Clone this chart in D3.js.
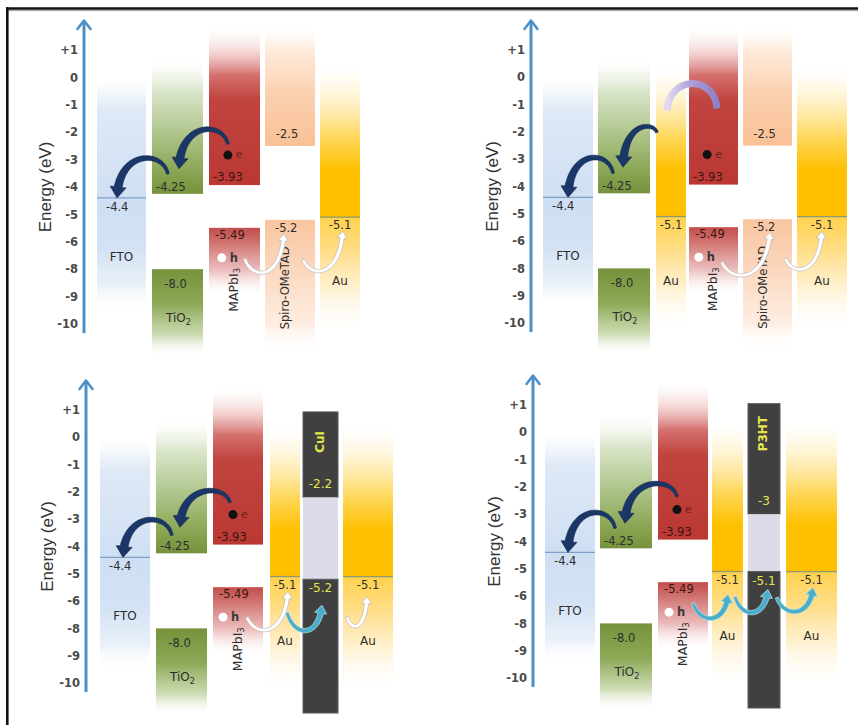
<!DOCTYPE html>
<html>
<head>
<meta charset="utf-8">
<script src="https://cdn.jsdelivr.net/npm/d3@7"></script>
<style>
  html, body { margin: 0; padding: 0; background: #fff; }
  svg { display: block; }
</style>
</head>
<body>
<svg id="chart" width="858" height="725"></svg>
<script>
// Energy axis ticks (the printed scale jumps from -6 to -8)
const tickValues = [1, 0, -1, -2, -3, -4, -5, -6, -8, -9, -10];
const tickLabels = ["+1", "0", "-1", "-2", "-3", "-4", "-5", "-6", "-8", "-9", "-10"];

// Semiconductors: conduction band / LUMO and valence band / HOMO (eV)
const semiconductors = ["TiO2", "MAPbI3", "Spiro-OMeTAD", "CuI", "P3HT"];
const conductionBand = [-4.25, -3.93, -2.5, -2.2, -3];
const conductionLabels = ["-4.25", "-3.93", "-2.5", "-2.2", "-3"];
const valenceBand = [-8.0, -5.49, -5.2, -5.2, -5.1];
const valenceLabels = ["-8.0", "-5.49", "-5.2", "-5.2", "-5.1"];

// Electrodes: work function (eV)
const electrodes = ["FTO", "Au"];
const workFunction = [-4.4, -5.1];
const workFunctionLabels = ["-4.4", "-5.1"];

// Layer stacks of the four device structures
const stacks = [
  ["FTO", "TiO2", "MAPbI3", "Spiro-OMeTAD", "Au"],
  ["FTO", "TiO2", "Au", "MAPbI3", "Spiro-OMeTAD", "Au"],
  ["FTO", "TiO2", "MAPbI3", "Au", "CuI", "Au"],
  ["FTO", "TiO2", "MAPbI3", "Au", "P3HT", "Au"]
];

// Panel geometry: axis position, pixel row of the first tick, tick spacing,
// horizontal extent of each layer column, and charge-transfer arrows
// (arrow ends are given as column index, fraction across the column,
// which energy level of that layer, and a pixel offset from it).
const layout = [
  { axisX: 84, top: 50, step: 27.4,
    cols: [[97, 146], [152, 203], [209, 260], [265, 315], [320, 360]],
    eDot: 0.37, hDot: 0.25,
    arrows: [
      { type: "navy", from: { c: 2, fx: 0.37, b: "cb", dy: -41 }, to: { c: 1, fx: 0.53, b: "cb", dy: -25 }, k: 14 },
      { type: "navy", from: { c: 1, fx: 0.31, b: "cb", dy: -20 }, to: { c: 0, fx: 0.41, b: "wf", dy: 0 }, k: 15 },
      { type: "white", from: { c: 2, fx: 0.70, b: "vb", dy: 31 }, to: { c: 3, fx: 0.38, b: "vb", dy: 14 }, k: 13 },
      { type: "white", from: { c: 3, fx: 0.76, b: "vb", dy: 40 }, to: { c: 4, fx: 0.57, b: "wf", dy: 14 }, k: 10 }
    ] },
  { axisX: 531, top: 50, step: 27.3,
    cols: [[543, 593], [598, 650], [656, 686], [689, 738], [743, 792], [797, 847]],
    eDot: 0.37, hDot: 0.2,
    arrows: [
      { type: "navy", from: { c: 2, fx: 0.03, b: "wf", dy: -84 }, to: { c: 1, fx: 0.48, b: "cb", dy: -26 }, k: 4 },
      { type: "navy", from: { c: 1, fx: 0.29, b: "cb", dy: -20 }, to: { c: 0, fx: 0.5, b: "wf", dy: 0 }, k: 15 },
      { type: "purple", from: { c: 2, fx: 0.37, b: "wf", dy: -106 }, to: { c: 3, fx: 0.57, b: "cb", dy: -76 }, k: 25 },
      { type: "white", from: { c: 3, fx: 0.67, b: "vb", dy: 35 }, to: { c: 4, fx: 0.55, b: "vb", dy: 13 }, k: 12 },
      { type: "white", from: { c: 4, fx: 0.86, b: "vb", dy: 39 }, to: { c: 5, fx: 0.5, b: "wf", dy: 15 }, k: 10 }
    ] },
  { axisX: 86, top: 410, step: 27.3,
    cols: [[100, 150], [156, 207], [213, 263], [270, 300], [303, 338], [343, 393]],
    eDot: 0.4, hDot: 0.2,
    arrows: [
      { type: "navy", from: { c: 2, fx: 0.34, b: "cb", dy: -42 }, to: { c: 1, fx: 0.47, b: "cb", dy: -26 }, k: 11 },
      { type: "navy", from: { c: 1, fx: 0.31, b: "cb", dy: -18 }, to: { c: 0, fx: 0.46, b: "wf", dy: 0 }, k: 15 },
      { type: "white", from: { c: 2, fx: 0.68, b: "vb", dy: 30 }, to: { c: 3, fx: 0.6, b: "wf", dy: 15 }, k: 12 },
      { type: "white", from: { c: 5, fx: 0.08, b: "wf", dy: 40 }, to: { c: 5, fx: 0.48, b: "wf", dy: 20 }, k: 9 },
      { type: "cyan", from: { c: 3, fx: 0.57, b: "wf", dy: 36 }, to: { c: 4, fx: 0.54, b: "vb", dy: 26 }, k: 18 }
    ] },
  { axisX: 533, top: 405, step: 27.3,
    cols: [[545, 595], [600, 652], [658, 708], [712, 743], [748, 780], [786, 837]],
    eDot: 0.38, hDot: 0.22,
    arrows: [
      { type: "navy", from: { c: 2, fx: 0.38, b: "cb", dy: -43 }, to: { c: 1, fx: 0.48, b: "cb", dy: -25 }, k: 12 },
      { type: "navy", from: { c: 1, fx: 0.29, b: "cb", dy: -20 }, to: { c: 0, fx: 0.46, b: "wf", dy: 0 }, k: 15 },
      { type: "cyan", from: { c: 2, fx: 0.70, b: "vb", dy: 21 }, to: { c: 3, fx: 0.52, b: "wf", dy: 23 }, k: 15 },
      { type: "cyan", from: { c: 3, fx: 0.74, b: "wf", dy: 25 }, to: { c: 4, fx: 0.62, b: "vb", dy: 18 }, k: 16 },
      { type: "cyan", from: { c: 4, fx: 0.90, b: "vb", dy: 26 }, to: { c: 5, fx: 0.53, b: "wf", dy: 16 }, k: 14 }
    ] }
];

const svg = d3.select("#chart");
const defs = svg.append("defs");
let gradId = 0;

function lookup(name) {
  let i = semiconductors.indexOf(name);
  if (i >= 0) {
    return { cb: conductionBand[i], vb: valenceBand[i], cbLabel: conductionLabels[i], vbLabel: valenceLabels[i] };
  }
  i = electrodes.indexOf(name);
  return { wf: workFunction[i], wfLabel: workFunctionLabels[i] };
}

// Vertical gradient whose stops are placed at energies on the panel's scale
function energyGradient(y, eTop, eBot, stops) {
  const id = "grad" + (gradId++);
  const y0 = y(eTop), y1 = y(eBot);
  const lg = defs.append("linearGradient")
    .attr("id", id).attr("gradientUnits", "userSpaceOnUse")
    .attr("x1", 0).attr("x2", 0).attr("y1", y0).attr("y2", y1);
  stops.forEach(([e, c, o]) => {
    lg.append("stop")
      .attr("offset", Math.max(0, Math.min(1, (y(e) - y0) / (y1 - y0))))
      .attr("stop-color", c).attr("stop-opacity", o);
  });
  return `url(#${id})`;
}

function band(g, y, x0, x1, eTop, eBot, stops) {
  g.append("rect")
    .attr("x", x0).attr("width", x1 - x0)
    .attr("y", y(eTop)).attr("height", y(eBot) - y(eTop))
    .attr("fill", energyGradient(y, eTop, eBot, stops));
}

function label(g, x, yy, str, opts = {}) {
  const t = g.append("text")
    .attr("x", x).attr("y", yy)
    .attr("font-family", opts.family || "DejaVu Sans")
    .attr("font-size", opts.size || 11.5)
    .attr("font-weight", opts.weight || "normal")
    .attr("fill", opts.fill || "#2e2e2e")
    .attr("text-anchor", opts.anchor || "start");
  if (opts.rotate) t.attr("transform", `rotate(-90,${x},${yy})`).attr("dominant-baseline", "middle");
  const m = /^(TiO|MAPbI)(\d)$/.exec(str);
  if (m) {
    t.append("tspan").text(m[1]);
    t.append("tspan").attr("font-size", (opts.size || 11.5) * 0.68).attr("dy", "0.3em").text(m[2]);
  } else {
    t.text(str);
  }
  return t;
}

// ---- arrow geometry ----
function bezierPoints(p0, p1, p2, p3, n = 90) {
  const pts = [];
  for (let i = 0; i <= n; i++) {
    const t = i / n, u = 1 - t;
    pts.push([
      u * u * u * p0[0] + 3 * u * u * t * p1[0] + 3 * u * t * t * p2[0] + t * t * t * p3[0],
      u * u * u * p0[1] + 3 * u * u * t * p1[1] + 3 * u * t * t * p2[1] + t * t * t * p3[1]
    ]);
  }
  return pts;
}

function overArc(T, H, lift) {
  const peak = Math.min(T[1], H[1]) - lift;
  const yc = (peak - (T[1] + H[1]) / 8) / 0.75;
  const dx = H[0] - T[0];
  return bezierPoints(T, [T[0] + dx * 0.1, yc], [H[0] - dx * 0.02, yc], H);
}

function underArc(T, H, dip) {
  const bottom = Math.max(T[1], H[1]) + dip;
  const yc = (bottom - (T[1] + H[1]) / 8) / 0.75;
  const dx = H[0] - T[0];
  return bezierPoints(T, [T[0] + dx * 0.2, yc], [H[0] - dx * 0.08, yc], H);
}

function taperedArrow(pts, w0, w1, headW, headL) {
  const cum = [0];
  for (let i = 1; i < pts.length; i++) {
    cum.push(cum[i - 1] + Math.hypot(pts[i][0] - pts[i - 1][0], pts[i][1] - pts[i - 1][1]));
  }
  const L = cum[cum.length - 1];
  const Lb = Math.max(L - headL, L * 0.3);
  const body = [];
  for (let i = 0; i < pts.length; i++) {
    if (cum[i] < Lb) {
      body.push({ p: pts[i], s: cum[i] });
    } else {
      const a = (Lb - cum[i - 1]) / (cum[i] - cum[i - 1]);
      body.push({ p: [pts[i - 1][0] + a * (pts[i][0] - pts[i - 1][0]), pts[i - 1][1] + a * (pts[i][1] - pts[i - 1][1])], s: Lb });
      break;
    }
  }
  const left = [], right = [];
  body.forEach((b, i) => {
    const a = body[Math.max(0, i - 1)].p, c = body[Math.min(body.length - 1, i + 1)].p;
    let tx = c[0] - a[0], ty = c[1] - a[1];
    const m = Math.hypot(tx, ty) || 1; tx /= m; ty /= m;
    const w = (w0 + (w1 - w0) * b.s / Lb) / 2;
    left.push([b.p[0] - ty * w, b.p[1] + tx * w]);
    right.push([b.p[0] + ty * w, b.p[1] - tx * w]);
  });
  const B = body[body.length - 1].p, E = pts[pts.length - 1];
  let dx = E[0] - B[0], dy = E[1] - B[1];
  const m = Math.hypot(dx, dy) || 1; dx /= m; dy /= m;
  const hw = headW / 2;
  const all = [...left, [B[0] - dy * hw, B[1] + dx * hw], E, [B[0] + dy * hw, B[1] - dx * hw], ...right.reverse()];
  return "M" + all.map(q => q[0].toFixed(2) + "," + q[1].toFixed(2)).join("L") + "Z";
}

// ---- frame ----
svg.append("line").attr("x1", 6).attr("x2", 858).attr("y1", 8.5).attr("y2", 8.5)
  .attr("stroke", "#111").attr("stroke-width", 2.6);
svg.append("line").attr("x1", 6).attr("x2", 858).attr("y1", 10.6).attr("y2", 10.6)
  .attr("stroke", "#9a9a9a").attr("stroke-width", 1);
svg.append("line").attr("x1", 7.3).attr("x2", 7.3).attr("y1", 7.2).attr("y2", 725)
  .attr("stroke", "#111").attr("stroke-width", 2.6);

// ---- panels ----
layout.forEach((p, pi) => {
  const g = svg.append("g");
  const y = d3.scaleLinear()
    .domain(tickValues)
    .range(tickValues.map((_, i) => p.top + i * p.step));
  const stack = stacks[pi];
  const infos = stack.map(lookup);

  // layer columns
  stack.forEach((name, ci) => {
    const [x0, x1] = p.cols[ci];
    const w = x1 - x0, xc = (x0 + x1) / 2;
    const L = infos[ci];

    if (name === "FTO") {
      band(g, y, x0, x1, -0.1, -9.5, [
        [-0.1, "#dfe8f5", 0], [-1.2, "#d9e5f5", 0.85], [-4.4, "#cfdff3", 1],
        [-6.5, "#d3e2f4", 1], [-8.6, "#e2ebf7", 0.75], [-9.5, "#ffffff", 0]
      ]);
      g.append("line").attr("x1", x0).attr("x2", x1).attr("y1", y(L.wf)).attr("y2", y(L.wf))
        .attr("stroke", "#7e9fc6").attr("stroke-width", 1.2);
      label(g, x0 + 9, y(L.wf) + 13, L.wfLabel);
      label(g, xc, y(L.wf) + 63, "FTO", { anchor: "middle", size: 12 });
    } else if (name === "Au") {
      band(g, y, x0, x1, 0.3, -10.2, [
        [0.3, "#fff4d6", 0], [-0.8, "#fff0c4", 0.8], [-2.2, "#ffd75a", 1],
        [-3.4, "#ffc000", 1], [L.wf, "#ffc000", 1], [L.wf - 0.03, "#ffd24f", 1],
        [-6.6, "#ffdd85", 1], [-8.6, "#ffedc2", 0.85], [-10.2, "#fffaf0", 0]
      ]);
      g.append("line").attr("x1", x0).attr("x2", x1).attr("y1", y(L.wf)).attr("y2", y(L.wf))
        .attr("stroke", "#8d9a74").attr("stroke-width", 1.3);
      label(g, xc, y(L.wf) + 12, L.wfLabel, { anchor: "middle" });
      label(g, xc, y(L.wf) + 68, "Au", { anchor: "middle", size: 12 });
    } else if (name === "TiO2") {
      band(g, y, x0, x1, 0.6, L.cb, [
        [0.6, "#eef3e6", 0], [-0.5, "#d8e4c7", 0.95], [-2, "#b0c68d", 1],
        [-3.4, "#8ba755", 1], [L.cb, "#76923c", 1]
      ]);
      band(g, y, x0, x1, L.vb, -11.1, [
        [L.vb, "#76923c", 1], [-9.3, "#8daa58", 1], [-10.4, "#c4d5a6", 0.85], [-11.1, "#eef3e6", 0]
      ]);
      label(g, x0 + 4, y(L.cb) - 3, L.cbLabel);
      label(g, xc - 2, y(L.vb) + 19, L.vbLabel, { anchor: "middle" });
      label(g, xc + 1, y(L.vb) + 53, "TiO2", { anchor: "middle", size: 12 });
    } else if (name === "MAPbI3") {
      band(g, y, x0, x1, 1.75, L.cb, [
        [1.75, "#f7dede", 0], [1.0, "#efc3c1", 0.6], [0.1, "#d5726f", 1],
        [-0.8, "#c1443f", 1], [L.cb, "#bb3833", 1]
      ]);
      band(g, y, x0, x1, L.vb, -8.9, [
        [L.vb, "#c24e4b", 1], [-6, "#cf716e", 1], [-8.0, "#e8b3b2", 0.9], [-8.9, "#fbeaea", 0]
      ]);
      label(g, x0 + 4, y(L.cb) - 4, L.cbLabel, { fill: "#3a1512" });
      label(g, x0 + 6, y(L.vb) + 11, L.vbLabel, { fill: "#3a1512" });
      label(g, xc, y(L.vb) + 62, "MAPbI3", { anchor: "middle", rotate: true, size: 12.5 });
      // electron and hole
      const ex = x0 + p.eDot * w, ey = y(L.cb) - 30;
      g.append("circle").attr("cx", ex).attr("cy", ey).attr("r", 4.5).attr("fill", "#111");
      label(g, ex + 8, ey + 3, "e", { size: 11, fill: "#6a2422" });
      const hx = x0 + p.hDot * w, hy = y(L.vb) + 30;
      g.append("circle").attr("cx", hx).attr("cy", hy).attr("r", 4.5).attr("fill", "#fff");
      label(g, hx + 8, hy + 4, "h", { size: 11.5, weight: "bold", fill: "#3a3a3a" });
    } else if (name === "Spiro-OMeTAD") {
      band(g, y, x0, x1, 1.75, L.cb, [
        [1.75, "#fdebdc", 0], [1.0, "#fde3cf", 0.75], [-0.5, "#fbd2b2", 1], [L.cb, "#f9c094", 1]
      ]);
      band(g, y, x0, x1, L.vb, -11, [
        [L.vb, "#f9c59f", 1], [-8, "#fbd7bd", 1], [-10, "#fde8d9", 0.8], [-11, "#ffffff", 0]
      ]);
      label(g, xc - 3, y(L.cb) - 8, L.cbLabel, { anchor: "middle" });
      label(g, x0 + 10, y(L.vb) + 12, L.vbLabel);
      label(g, x0 + 0.42 * w, y(L.vb) + 68, "Spiro-OMeTAD", { anchor: "middle", rotate: true, size: 11.5 });
    } else {
      // dark hole-transport layer (CuI, P3HT) with its band gap shown open
      const eTop = name === "CuI" ? 0.93 : 1.05;
      const eBot = -11.1;
      const dark = "#404040";
      g.append("rect").attr("x", x0).attr("width", w).attr("y", y(eTop)).attr("height", y(L.cb) - y(eTop))
        .attr("fill", dark).attr("stroke", "#5c5c5c").attr("stroke-width", 1);
      g.append("rect").attr("x", x0).attr("width", w).attr("y", y(L.cb)).attr("height", y(L.vb) - y(L.cb))
        .attr("fill", "#dcdce9");
      g.append("rect").attr("x", x0).attr("width", w).attr("y", y(L.vb)).attr("height", y(eBot) - y(L.vb))
        .attr("fill", dark).attr("stroke", "#5c5c5c").attr("stroke-width", 1);
      label(g, xc, y(eTop) + 30, name, { anchor: "middle", rotate: true, size: 12, weight: "bold", fill: "#e6e64c" });
      label(g, xc, y(L.cb) - 9, L.cbLabel, { anchor: "middle", size: 12, fill: "#e6e64c" });
      label(g, xc, y(L.vb) + 13, L.vbLabel, { anchor: "middle", size: 12, fill: "#e6e64c" });
    }
  });

  // energy axis
  const axis = d3.axisLeft(y)
    .tickValues(tickValues)
    .tickFormat((d, i) => tickLabels[i])
    .tickSize(0)
    .tickPadding(5);
  const ag = g.append("g").attr("transform", `translate(${p.axisX - 1},0)`).call(axis);
  ag.select(".domain").remove();
  ag.selectAll("text")
    .attr("font-family", "DejaVu Sans")
    .attr("font-size", 11.5)
    .attr("font-weight", "bold")
    .attr("fill", "#4a4a4a");
  const axisColor = "#4b8fc6";
  g.append("line")
    .attr("x1", p.axisX).attr("x2", p.axisX)
    .attr("y1", y(-10) + 9).attr("y2", p.top - 29)
    .attr("stroke", axisColor).attr("stroke-width", 3);
  g.append("path")
    .attr("d", `M${p.axisX - 6.5},${p.top - 21}L${p.axisX},${p.top - 29.5}L${p.axisX + 6.5},${p.top - 21}`)
    .attr("fill", "none").attr("stroke", axisColor).attr("stroke-width", 2.5)
    .attr("stroke-linecap", "round").attr("stroke-linejoin", "round");
  label(g, p.axisX - 37, p.top + 5 * p.step, "Energy (eV)", {
    family: "Liberation Sans", size: 17, anchor: "middle", rotate: true, fill: "#333"
  });

  // charge-transfer arrows
  const at = (s) => {
    const [x0, x1] = p.cols[s.c];
    return [x0 + s.fx * (x1 - x0), y(infos[s.c][s.b]) + s.dy];
  };
  p.arrows.forEach((a, ai) => {
    const T = at(a.from), H = at(a.to);
    if (a.type === "navy") {
      g.append("path").attr("d", taperedArrow(overArc(T, H, a.k), 2.8, 8, 16, 11))
        .attr("fill", "#1a3768").attr("stroke", "#13284d").attr("stroke-width", 0.6);
    } else if (a.type === "purple") {
      const id = "arc" + pi + "_" + ai;
      const lg = defs.append("linearGradient").attr("id", id)
        .attr("gradientUnits", "userSpaceOnUse")
        .attr("x1", T[0]).attr("x2", H[0]).attr("y1", 0).attr("y2", 0);
      lg.append("stop").attr("offset", 0).attr("stop-color", "#e2dcf3");
      lg.append("stop").attr("offset", 0.5).attr("stop-color", "#ab9dd8");
      lg.append("stop").attr("offset", 1).attr("stop-color", "#8f7fc4");
      const yc = (Math.min(T[1], H[1]) - a.k - (T[1] + H[1]) / 8) / 0.75;
      const pts = bezierPoints(T, [T[0] + 2, yc], [H[0] - 2, yc], H);
      g.append("path").attr("d", d3.line()(pts))
        .attr("fill", "none").attr("stroke", `url(#${id})`).attr("stroke-width", 7);
    } else if (a.type === "white") {
      g.append("path").attr("d", taperedArrow(underArc(T, H, a.k), 3, 4.2, 10, 7))
        .attr("fill", "#ffffff").attr("stroke", "#c4c0bd").attr("stroke-width", 0.9);
    } else {
      g.append("path").attr("d", taperedArrow(underArc(T, H, a.k), 3.2, 5.5, 12, 8))
        .attr("fill", "#4aaecb").attr("stroke", "#b4e1ee").attr("stroke-width", 0.8);
    }
  });
});
</script>
</body>
</html>
